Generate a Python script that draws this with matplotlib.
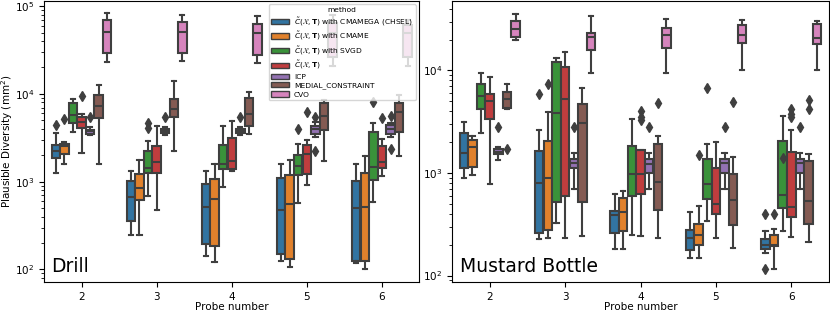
import matplotlib
matplotlib.use("Agg")
import matplotlib.pyplot as plt
from matplotlib.patches import Patch
import numpy as np

plt.rcParams.update({
    "font.family": "DejaVu Sans",
    "font.size": 7.5,
    "axes.labelsize": 7.5,
    "xtick.labelsize": 7.5,
    "ytick.labelsize": 7.5,
})

PROBES = [2, 3, 4, 5, 6]
METHODS = [
    r"$\tilde{C}(\mathcal{X}, \mathbf{T})$ with CMAMEGA (CHSEL)",
    r"$\tilde{C}(\mathcal{X}, \mathbf{T})$ with CMAME",
    r"$\tilde{C}(\mathcal{X}, \mathbf{T})$ with SVGD",
    r"$\tilde{C}(\mathcal{X}, \mathbf{T})$",
    "ICP",
    "MEDIAL_CONSTRAINT",
    "CVO",
]
COLORS = ["#3274a1", "#e1812c", "#3a923a", "#c03d3e", "#9372b2", "#845b53", "#d684bd"]
GRAY = "#3f3f3f"

# box stats per probe number: (whisker low, q1, median, q3, whisker high)
# ---- Drill ----
DRILL_CMAMEGA = [(1240, 1850, 2230, 2650, 3600), (244, 358, 661, 1030, 1330),
                 (142, 194, 521, 938, 1310), (124, 152, 474, 1090, 1610),
                 (119, 124, 508, 1020, 1610)]
DRILL_CMAME = [(1580, 2060, 2540, 2680, 2820), (244, 612, 837, 1210, 1760),
               (122, 186, 627, 1060, 1610), (107, 132, 555, 1190, 1760),
               (102, 126, 513, 1240, 1950)]
DRILL_SVGD = [(3660, 4690, 5790, 7960, 8650), (690, 1240, 1440, 2250, 2920),
              (860, 1390, 1610, 2650, 4300), (565, 1190, 1520, 2000, 2720),
              (594, 1040, 1480, 3700, 4690)]
DRILL_C = [(2130, 4110, 4810, 5480, 5880), (482, 1270, 1680, 2540, 4340),
           (1330, 1390, 1730, 3160, 4940), (912, 1210, 2060, 2610, 2970),
           (1160, 1440, 1660, 2540, 3030)]
DRILL_ICP = [(3390, 3540, 3770, 3930, 4220), (3390, 3600, 3800, 4000, 4220),
             (3390, 3600, 3770, 3970, 4220), (3240, 3540, 3940, 4300, 4770),
             (3240, 3540, 3940, 4370, 4690)]
DRILL_MEDIAL = [(1610, 5300, 7270, 9770, 12600), (2250, 5390, 6700, 8790, 14100),
                (3450, 4300, 5880, 8930, 10600), (1730, 3860, 5620, 7780, 8490),
                (1970, 3700, 6250, 7930, 9680)]
DRILL_CVO = [(23000, 29400, 51000, 68700, 82500), (23600, 29400, 50100, 65800, 80300),
             (22600, 28100, 48900, 61800, 77600), (20900, 26500, 48900, 63500, 78900),
             (20900, 26500, 48900, 60700, 69000)]
DRILL_FLIERS = [
    [[4400], [], [], [], []],
    [[5150], [], [], [], []],
    [[], [4700, 4100], [], [3940], [8130]],
    [[9500], [], [], [6250], [5250]],
    [[5390], [5480], [5480], [5480, 2250], [5570, 2330]],
    [[], [], [], [], []],
    [[], [], [], [], []],
]

# ---- Mustard Bottle ----
MUSTARD_CMAMEGA = [(891, 1110, 1570, 2450, 3130), (228, 263, 801, 1630, 2620),
                   (183, 261, 388, 427, 631), (147, 179, 233, 281, 418),
                   (166, 183, 200, 226, 271)]
MUSTARD_CMAME = [(960, 1150, 1790, 2090, 2320), (231, 279, 891, 2050, 3950),
                 (183, 271, 415, 573, 670), (147, 198, 247, 319, 475),
                 (116, 193, 198, 249, 285)]
MUSTARD_SVGD = [(2430, 4200, 5660, 7300, 9350), (329, 519, 3890, 12100, 13200),
                (247, 594, 988, 1830, 3400), (341, 556, 790, 1380, 1910),
                (273, 461, 612, 2030, 3580)]
MUSTARD_C = [(773, 3400, 5060, 5880, 8670), (235, 603, 5330, 10900, 15000),
             (242, 631, 988, 1690, 1690), (231, 400, 497, 1130, 2000),
             (238, 373, 467, 1610, 2650)]
MUSTARD_ICP = [(1330, 1530, 1610, 1730, 1790), (695, 1110, 1240, 1360, 1570),
               (695, 1000, 1220, 1360, 1570), (695, 990, 1240, 1360, 1570),
               (695, 995, 1240, 1360, 1570)]
MUSTARD_MEDIAL = [(4230, 4350, 5300, 6100, 7360), (242, 527, 3060, 4660, 6820),
                  (233, 434, 821, 1900, 2310), (186, 309, 551, 975, 1440),
                  (213, 317, 530, 1310, 1550)]
MUSTARD_CVO = [(19800, 21000, 25300, 30200, 35900), (9350, 16000, 21300, 23300, 34100),
               (9350, 16400, 22100, 25900, 31700), (10100, 18600, 22300, 27500, 31000),
               (10100, 18300, 20900, 28100, 30600)]
MUSTARD_FLIERS = [
    [[], [5840], [], [], [403, 116]],
    [[], [7360], [], [1510], [403]],
    [[], [], [], [6780], [1410]],
    [[], [], [4010, 3480, 3270], [], [4250, 3800, 3530]],
    [[2820], [2820], [2820], [2820], [2820]],
    [[1720], [], [4770], [4940], [5210, 4250]],
    [[], [], [], [], []],
]

DRILL = [DRILL_CMAMEGA, DRILL_CMAME, DRILL_SVGD, DRILL_C, DRILL_ICP, DRILL_MEDIAL, DRILL_CVO]
MUSTARD = [MUSTARD_CMAMEGA, MUSTARD_CMAME, MUSTARD_SVGD, MUSTARD_C, MUSTARD_ICP,
           MUSTARD_MEDIAL, MUSTARD_CVO]


def draw_panel(ax, boxes, fliers, name, ylim):
    n = len(METHODS)
    w = 0.8 / n
    x = np.arange(len(PROBES))
    for i, (rows, fl) in enumerate(zip(boxes, fliers)):
        stats = [dict(whislo=r[0], q1=r[1], med=r[2], q3=r[3], whishi=r[4], fliers=f)
                 for r, f in zip(rows, fl)]
        ax.bxp(stats, positions=x + (i - (n - 1) / 2) * w, widths=w * 0.98,
               patch_artist=True, manage_ticks=False,
               boxprops=dict(facecolor=COLORS[i], edgecolor=GRAY, linewidth=1.5),
               medianprops=dict(color=GRAY, linewidth=1.5),
               whiskerprops=dict(color=GRAY, linewidth=1.5),
               capprops=dict(color=GRAY, linewidth=1.5),
               flierprops=dict(marker="d", markerfacecolor=GRAY, markeredgecolor=GRAY,
                               markersize=5))
    ax.set_yscale("log")
    ax.set_ylim(*ylim)
    ax.set_xlim(-0.5, len(PROBES) - 0.5)
    ax.set_xticks(x)
    ax.set_xticklabels([str(p) for p in PROBES])
    ax.set_xlabel("Probe number", labelpad=0.5)
    ax.text(0.02, 0.02, name, transform=ax.transAxes, fontsize=13.5,
            ha="left", va="bottom")


fig = plt.figure(figsize=(8.3, 3.12), dpi=100)
ax1 = fig.add_axes([0.053, 0.0962, 0.4524, 0.9018])
ax2 = fig.add_axes([0.5446, 0.0962, 0.4542, 0.9018])

draw_panel(ax1, DRILL, DRILL_FLIERS, "Drill", (72, 1.156e5))
draw_panel(ax2, MUSTARD, MUSTARD_FLIERS, "Mustard Bottle", (86.6, 4.8e4))
ax1.set_ylabel("Plausible Diversity (mm$^2$)")
ax1.yaxis.set_label_coords(-0.078, 0.5)

handles = [Patch(facecolor=c, edgecolor=GRAY, linewidth=1) for c in COLORS]
ax1.legend(handles, METHODS, title="method", loc="upper right",
           fontsize=5.4, title_fontsize=5.4, handlelength=2.4,
           labelspacing=0.3, borderpad=0.35, handletextpad=0.6)

fig.savefig("out.png", dpi=100)
